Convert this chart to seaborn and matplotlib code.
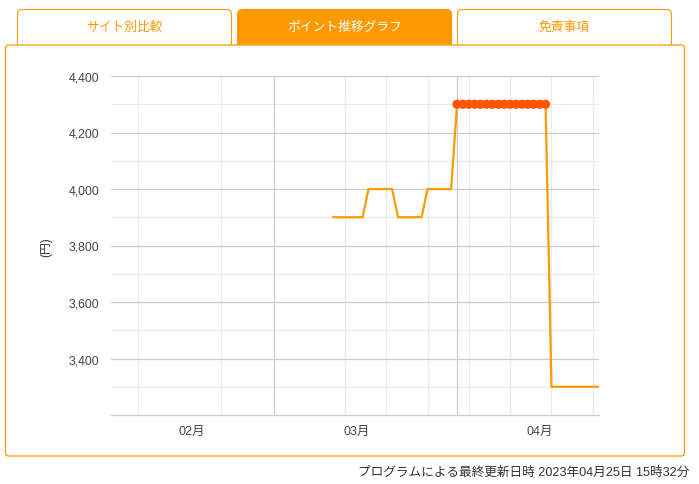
import matplotlib
matplotlib.use("Agg")
import matplotlib.pyplot as plt
import matplotlib.dates as mdates
from matplotlib.patches import FancyBboxPatch
import seaborn as sns
import pandas as pd

# Data (daily points, yen)
start_date = "2023-02-25"
points = [3900, 3900, 3900, 3900, 3900, 3900,
          4000, 4000, 4000, 4000, 4000,
          3900, 3900, 3900, 3900, 3900,
          4000, 4000, 4000, 4000, 4000,
          4300, 4300, 4300, 4300, 4300, 4300, 4300, 4300,
          4300, 4300, 4300, 4300, 4300, 4300, 4300, 4300,
          3300, 3300, 3300, 3300, 3300, 3300, 3300, 3300, 3300]
month_ticks = ["2023-02-01", "2023-03-01", "2023-04-01"]
month_labels = ["02月", "03月", "04月"]
week_lines = ["2023-01-23", "2023-02-06", "2023-02-27", "2023-03-06", "2023-03-13",
              "2023-03-20", "2023-03-27", "2023-04-03", "2023-04-10"]
major_lines = ["2023-02-15", "2023-03-18"]
tabs = ["サイト別比較", "ポイント推移グラフ", "免責事項"]
footer = "プログラムによる最終更新日時 2023年04月25日 15時32分"

df = pd.DataFrame({"date": pd.date_range(start_date, periods=len(points), freq="D"),
                   "value": points})
peak = df[df["value"] == df["value"].max()]

sns.set_style("white")
plt.rcParams["font.family"] = ["Liberation Sans", "Noto Sans CJK JP", "DejaVu Sans"]

ORANGE = "#ff9900"
W, H = 699, 485
fig = plt.figure(figsize=(W / 100, H / 100), dpi=100)

# background layer in pixel coordinates
bg = fig.add_axes([0, 0, 1, 1])
bg.set_xlim(0, W)
bg.set_ylim(H, 0)
bg.axis("off")

tab_x = [17.5, 237.5, 457.5]
for i, (x0, name) in enumerate(zip(tab_x, tabs)):
    active = i == 1
    bg.add_patch(FancyBboxPatch((x0, 10.5), 214, 45, boxstyle="round,pad=0,rounding_size=5",
                                fc=ORANGE if active else "white", ec=ORANGE, lw=0.8, zorder=1))
    bg.text(x0 + 107, 28, name, ha="center", va="center", fontsize=9.2,
            color="white" if active else ORANGE, zorder=3)

bg.add_patch(FancyBboxPatch((5.5, 46), 679, 411, boxstyle="round,pad=0,rounding_size=3",
                            fc="white", ec=ORANGE, lw=0.9, zorder=2))
bg.text(689, 473, footer, ha="right", va="center", fontsize=9.1, color="#333333")
bg.text(46, 247, "(円)", ha="center", va="center", rotation=90, fontsize=8.5, color="#333333",
        zorder=3)

# chart
ax = fig.add_axes([111 / W, 1 - 416 / H, 487.7 / W, 339 / H], zorder=5)
ax.patch.set_alpha(0)

for d in week_lines:
    ax.axvline(pd.Timestamp(d), color="#ebebeb", lw=0.9, zorder=0)
for d in major_lines:
    ax.axvline(pd.Timestamp(d), color="#cccccc", lw=0.9, zorder=1)

sns.lineplot(data=df, x="date", y="value", ax=ax, color=ORANGE, lw=1.6, zorder=3)
ax.scatter(peak["date"], peak["value"], s=44, color="#ff5500", edgecolors="none", zorder=4)

ax.set_ylim(3200, 4400)
ax.set_xlim(pd.Timestamp("2023-01-18 09:00"), pd.Timestamp("2023-04-11"))
ax.set_yticks(range(3400, 4401, 200))
ax.set_yticks(range(3300, 4400, 200), minor=True)
ax.yaxis.set_major_formatter(matplotlib.ticker.FuncFormatter(lambda v, p: f"{int(v):,}"))
ax.set_xticks([pd.Timestamp(d) for d in month_ticks])
ax.set_xticklabels(month_labels)
ax.xaxis.set_minor_locator(matplotlib.ticker.NullLocator())

ax.grid(axis="y", which="major", color="#cccccc", lw=0.9)
ax.grid(axis="y", which="minor", color="#ebebeb", lw=0.9)
ax.grid(axis="x", visible=False)
ax.set_axisbelow(True)

for s in ["top", "left", "right"]:
    ax.spines[s].set_visible(False)
ax.spines["bottom"].set_color("#cccccc")
ax.spines["bottom"].set_linewidth(0.9)

ax.tick_params(axis="y", length=0, pad=8.5, labelsize=8.8, labelcolor="#444444")
ax.tick_params(axis="x", length=0, pad=7, labelsize=9, labelcolor="#444444")
ax.set_xlabel("")
ax.set_ylabel("")

fig.savefig("out.png", dpi=100)
